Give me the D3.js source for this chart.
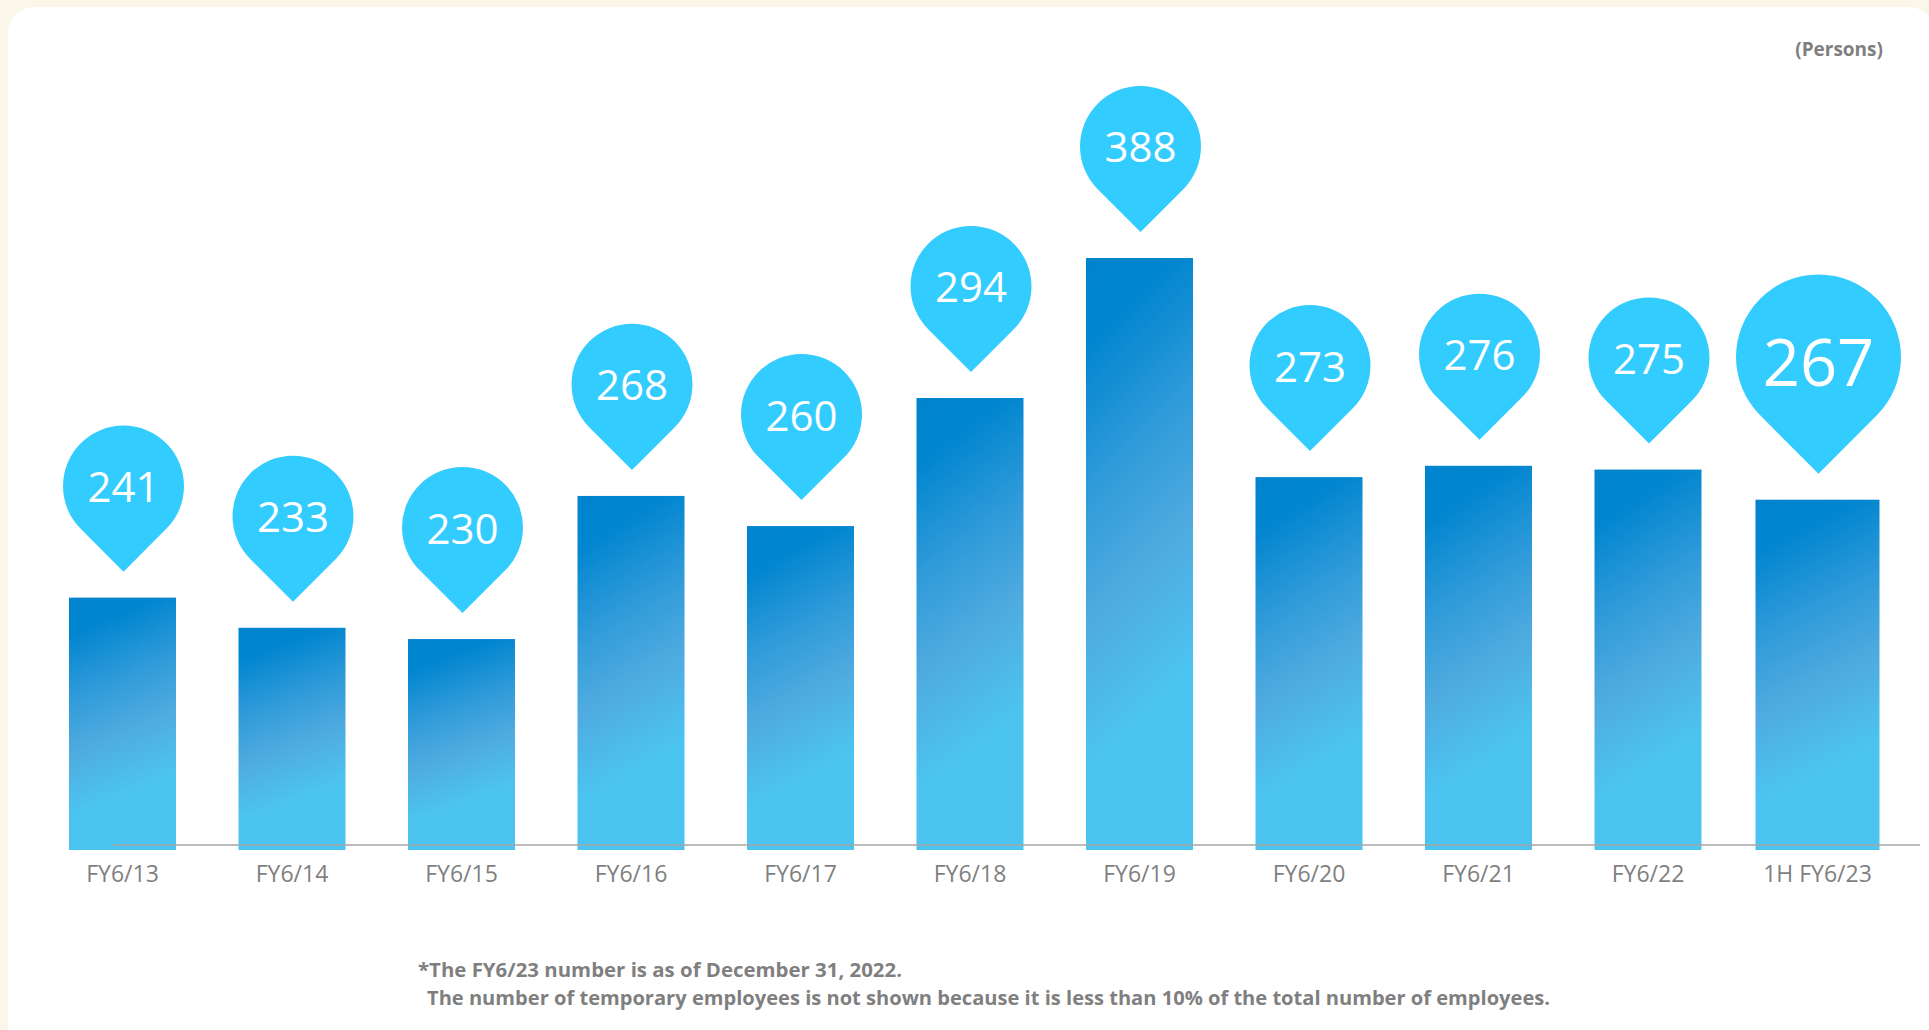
<!DOCTYPE html>
<html>
<head>
<meta charset="utf-8">
<script src="https://cdn.jsdelivr.net/npm/d3@7"></script>
<style>
  html, body { margin: 0; padding: 0; background: #FAF7EA; }
  svg { display: block; }
</style>
</head>
<body>
<svg id="chart" width="1929" height="1030"></svg>
<script>
// Number of employees by fiscal year
const categories = ["FY6/13", "FY6/14", "FY6/15", "FY6/16", "FY6/17", "FY6/18",
                    "FY6/19", "FY6/20", "FY6/21", "FY6/22", "1H FY6/23"];
const employees = [241, 233, 230, 268, 260, 294, 388, 273, 276, 275, 267];
const unitLabel = "(Persons)";
const footnotes = [
  "*The FY6/23 number is as of December 31, 2022.",
  "The number of temporary employees is not shown because it is less than 10% of the total number of employees."
];

const W = 1929, H = 1030;
const svg = d3.select("#chart");
const baseY = 850;

// card background
svg.append("rect").attr("x", 8).attr("y", 7).attr("width", 1927).attr("height", 1060)
  .attr("rx", 26).attr("ry", 26).attr("fill", "#FFFFFF");

// bar gradient
const defs = svg.append("defs");
const grad = defs.append("linearGradient").attr("id", "barGrad")
  .attr("x1", 0).attr("y1", 0).attr("x2", 0.18).attr("y2", 1);
[[0, "#0084CE"], [0.14, "#0085CF"], [0.38, "#2E9AD9"], [0.6, "#4FABDF"],
 [0.84, "#4CC4F0"], [1, "#4CC4F0"]].forEach(([o, c]) =>
  grad.append("stop").attr("offset", o).attr("stop-color", c));

const x = d3.scaleBand().domain(categories)
  .range([69, 1871]).paddingInner(0.3687).paddingOuter(0);

// value axis starts above zero and compresses above 294 so the peak year fits
const y = d3.scaleLinear().domain([174, 294, 388]).range([baseY, 398, 258]);

const last = categories[categories.length - 1];
const barW = d => d === last ? 124 : x.bandwidth();
const cx = d => x(d) + x.bandwidth() / 2;

const data = categories.map((c, i) => ({ cat: c, value: employees[i] }));

// bars
svg.append("g").selectAll("rect").data(data).join("rect")
  .attr("x", d => cx(d.cat) - barW(d.cat) / 2)
  .attr("y", d => y(d.value))
  .attr("width", d => barW(d.cat))
  .attr("height", d => baseY - y(d.value))
  .attr("fill", "url(#barGrad)");

// baseline
svg.append("line").attr("x1", 113).attr("x2", 1920).attr("y1", 845).attr("y2", 845)
  .attr("stroke", "#A6A6A6").attr("stroke-width", 1.5);

// category labels
const xAxis = svg.append("g").attr("transform", `translate(0,${baseY})`)
  .call(d3.axisBottom(x).tickSize(0).tickPadding(0));
xAxis.select(".domain").remove();
xAxis.selectAll("text")
  .attr("y", 32).attr("dy", 0)
  .attr("font-family", "'Open Sans', sans-serif")
  .attr("font-size", 23)
  .attr("fill", "#7F7F7F");

// value pins
function pinPath(px, py, r) {
  const k = r / Math.SQRT2;
  const tipY = py + r * Math.SQRT2;
  return `M${px},${tipY}L${px - k},${py + k}A${r},${r} 0 1 1 ${px + k},${py + k}Z`;
}
svg.append("g").selectAll("g").data(data).join("g")
  .each(function (d) {
    const big = d.cat === last;
    const r = big ? 82.5 : 60.5;
    const tip = y(d.value) - 26;
    const py = tip - r * Math.SQRT2;
    const px = cx(d.cat) + 1;
    const g = d3.select(this);
    g.append("path").attr("d", pinPath(px, py, r)).attr("fill", "#33CCFF");
    const fs = big ? 65 : 42;
    g.append("text")
      .attr("x", px).attr("y", py + (big ? 28.5 : 16))
      .attr("text-anchor", "middle")
      .attr("font-family", "'Open Sans', sans-serif")
      .attr("font-size", fs)
      .attr("fill", "#FFFFFF")
      .text(d.value);
  });

// unit label
svg.append("text").attr("x", 1883).attr("y", 56)
  .attr("text-anchor", "end")
  .attr("font-family", "'Open Sans', sans-serif")
  .attr("font-weight", "bold").attr("font-size", 19)
  .attr("fill", "#7F7F7F").text(unitLabel);

// footnotes
const noteX = [418, 427], noteY = [977, 1005], noteLen = [484, 1123];
footnotes.forEach((t, i) => {
  svg.append("text").attr("x", noteX[i]).attr("y", noteY[i])
    .attr("font-family", "'Open Sans', sans-serif")
    .attr("font-weight", "bold").attr("font-size", 19)
    .attr("textLength", noteLen[i]).attr("lengthAdjust", "spacingAndGlyphs")
    .attr("fill", "#7F7F7F").text(t);
});
</script>
</body>
</html>
